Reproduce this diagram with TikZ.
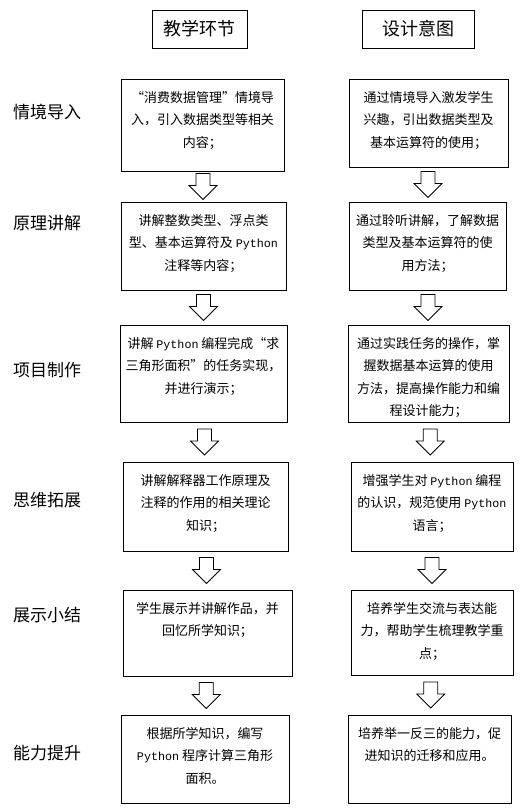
\documentclass[tikz,border=0pt]{standalone}
\usepackage{fontspec}
\setmainfont{Noto Sans CJK SC}
\newfontfamily\monofnt[Scale=0.9]{Liberation Mono}
\newcommand\py{{\monofnt Python}}
\newcommand\btext[3]{\parbox[c][#1][t]{#2}{\centering\fontsize{13}{22.5}\selectfont\rule{0pt}{23pt}#3}}
\usetikzlibrary{calc}
\tikzset{
  box/.style={draw, line width=0.8pt, inner sep=0pt, anchor=center},
  head/.style={draw, line width=0.8pt, inner sep=0pt, minimum height=38pt, font=\fontsize{18}{20}\selectfont},
  side/.style={font=\fontsize{17}{19}\selectfont},
  hollowarrow/.pic={\draw[line width=0.8pt, line join=miter] (-7,-13)--(-7,-1)--(-14,-1)--(0,13)--(14,-1)--(7,-1)--(7,-13)--cycle;}
}
\begin{document}
\begin{tikzpicture}[x=1pt,y=-1pt]
\useasboundingbox (0,0) rectangle (520,812);
% headers
\node[head, minimum width=95pt] (h1) at (199.5,29) {教学环节};
\node[head, minimum width=112pt] (h2) at (418,29) {设计意图};
% side labels
\node[side] (s1) at (47,112) {情境导入};
\node[side] (s2) at (47,223) {原理讲解};
\node[side] (s3) at (47,370) {项目制作};
\node[side] (s4) at (47,500) {思维拓展};
\node[side] (s5) at (47,615) {展示小结};
\node[side] (s6) at (47,753) {能力提升};
% left column
\node[box] (L1) at (202.5,125) {\btext{92pt}{163pt}{“消费数据管理”情境导\\入，引入数据类型等相关\\内容；}};
\node[box] (L2) at (203.5,246) {\btext{88pt}{165pt}{讲解整数类型、浮点类\\型、基本运算符及 \py\\注释等内容；}};
\node[box] (L3) at (203.5,373.5) {\btext{97pt}{167pt}{讲解 \py{} 编程完成“求\\三角形面积”的任务实现，\\并进行演示；}};
\node[box] (L4) at (205.5,506.5) {\btext{89pt}{165pt}{讲解解释器工作原理及\\注释的作用的相关理论\\知识；}};
\node[box] (L5) at (207.5,633) {\btext{86pt}{169pt}{学生展示并讲解作品，并\\回忆所学知识；}};
\node[box] (L6) at (205,759) {\btext{88pt}{168pt}{根据所学知识，编写\\\py{} 程序计算三角形\\面积。}};
% right column
\node[box] (R1) at (428.5,123) {\btext{88pt}{159pt}{通过情境导入激发学生\\兴趣，引出数据类型及\\基本运算符的使用；}};
\node[box] (R2) at (427.5,246) {\btext{88pt}{157pt}{通过聆听讲解，了解数据\\类型及基本运算符的使\\用方法；}};
\node[box] (R3) at (428.5,373.5) {\btext{97pt}{161pt}{通过实践任务的操作，掌\\握数据基本运算的使用\\方法，提高操作能力和编\\程设计能力；}};
\node[box] (R4) at (432,506.5) {\btext{89pt}{162pt}{增强学生对 \py{} 编程\\的认识，规范使用 \py\\语言；}};
\node[box] (R5) at (432,632.5) {\btext{85pt}{162pt}{培养学生交流与表达能\\力，帮助学生梳理教学重\\点；}};
\node[box] (R6) at (429.5,759) {\btext{88pt}{163pt}{培养举一反三的能力，促\\进知识的迁移和应用。}};
% arrows
\foreach \a/\b in {L1/L2,L2/L3,L3/L4,L4/L5,L5/L6,R1/R2,R2/R3,R3/R4,R4/R5,R5/R6}
  \pic at ($(\a.south)!0.5!(\b.north)$) {hollowarrow};
\end{tikzpicture}
\end{document}
